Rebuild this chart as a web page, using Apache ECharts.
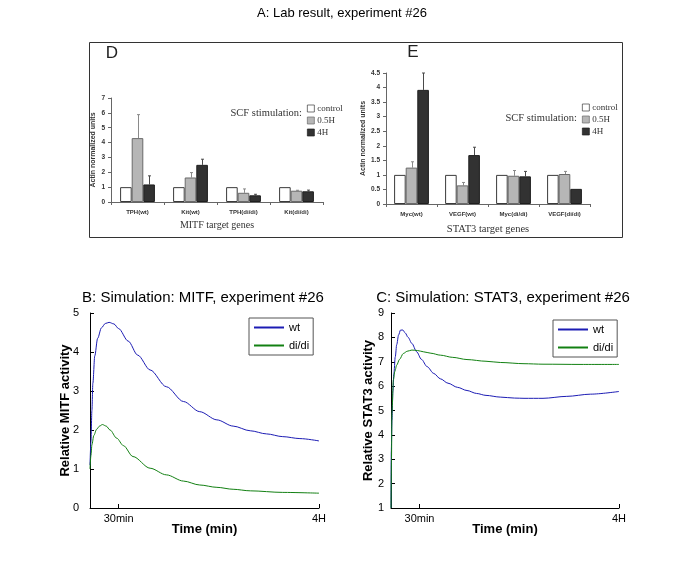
<!DOCTYPE html>
<html>
<head>
<meta charset="utf-8">
<script src="https://cdn.jsdelivr.net/npm/echarts@6/dist/echarts.min.js"></script>
<style>
html,body{margin:0;padding:0;background:#fff;}
#main{width:685px;height:570px;}
</style>
</head>
<body>
<div id="main"></div>
<script>
// ---------- DATA ----------
// Panel D (MITF target genes)
const dCategories = ['TPH(wt)', 'Kit(wt)', 'TPH(di/di)', 'Kit(di/di)'];
const dControl = [1.0, 1.0, 1.0, 1.0];
const dHalfHour = [4.3, 1.65, 0.62, 0.76];
const dFourHour = [1.18, 2.5, 0.45, 0.72];
const dHalfHourErrTop = [5.88, 1.98, 0.88, 0.79];
const dFourHourErrTop = [1.76, 2.88, 0.52, 0.8];
const dYTicks = {min: 0, max: 7, step: 1};

// Panel E (STAT3 target genes)
const eCategories = ['Myc(wt)', 'VEGF(wt)', 'Myc(di/di)', 'VEGF(di/di)'];
const eControl = [1.0, 1.0, 1.0, 1.0];
const eHalfHour = [1.25, 0.64, 0.97, 1.03];
const eFourHour = [3.92, 1.68, 0.95, 0.52];
const eHalfHourErrTop = [1.45, 0.74, 1.15, 1.12];
const eFourHourErrTop = [4.5, 1.95, 1.12, null];
const eYTicks = {min: 0, max: 4.5, step: 0.5};

const groupNames = ['control', '0.5H', '4H'];

// Panel B (simulation MITF)
const bWtTime = [0, 1, 2, 3, 5, 8, 12, 16, 20, 25, 30, 40, 50, 63, 80, 98, 115, 133, 150, 168, 185, 202, 220, 240];
const bWtValue = [1.1, 1.7, 2.5, 3.2, 3.9, 4.35, 4.62, 4.73, 4.76, 4.72, 4.6, 4.28, 3.92, 3.54, 3.11, 2.73, 2.47, 2.26, 2.1, 1.98, 1.9, 1.83, 1.78, 1.72];
const bDiTime = [0, 1, 2, 4, 7, 10, 13, 17, 21, 28, 35, 45, 63, 80, 98, 115, 133, 150, 168, 202, 240];
const bDiValue = [1.0, 1.35, 1.62, 1.86, 2.02, 2.1, 2.14, 2.1, 2.0, 1.79, 1.6, 1.32, 1.02, 0.85, 0.69, 0.59, 0.53, 0.48, 0.44, 0.4, 0.38];

// Panel C (simulation STAT3)
const cWtTime = [0, 0.3, 1, 2, 3, 4.5, 6, 8, 10, 12.5, 15, 18, 22, 27, 32, 38, 45, 52, 60, 70, 80, 90, 100, 115, 130, 140, 160, 185, 210, 240];
const cWtValue = [1, 3.3, 4.6, 5.8, 6.5, 7.2, 7.7, 8.1, 8.3, 8.3, 8.18, 8.0, 7.75, 7.41, 7.1, 6.8, 6.52, 6.3, 6.12, 5.95, 5.82, 5.7, 5.62, 5.55, 5.51, 5.5, 5.5, 5.58, 5.67, 5.78];
const cDiTime = [0, 0.5, 1, 2.5, 4, 6, 9, 13, 17, 22, 28, 34, 42, 52, 65, 80, 100, 115, 140, 160, 200, 240];
const cDiValue = [1, 3.0, 4.9, 6.25, 6.6, 6.86, 7.1, 7.34, 7.43, 7.48, 7.46, 7.41, 7.35, 7.27, 7.18, 7.09, 7.02, 6.97, 6.92, 6.9, 6.89, 6.89];

const timeTickValues = [30, 240];
const timeTickLabels = ['30min', '4H'];
const timeRange = {min: 0, max: 240};
const bYTicks = {min: 0, max: 5, step: 1};
const cYTicks = {min: 1, max: 9, step: 1};

// ---------- STYLE ----------
const SANS = 'Arial, "Liberation Sans", Helvetica, sans-serif';
const SERIF = '"Times New Roman", "Liberation Serif", Times, serif';
const BAR_W = 11.6;
const BLUE = '#1c1cb4';
const GREEN = '#128012';

function zip(a, b) { return a.map((v, i) => [v, b[i]]); }

function errData(tops, bars) {
  const out = [];
  tops.forEach((t, i) => { if (t != null) out.push([i, t, bars[i]]); });
  return out;
}

function errSeries(name, grid, tops, bars, offsetIdx, color) {
  return {
    type: 'custom', name: name, xAxisIndex: grid, yAxisIndex: grid,
    data: errData(tops, bars), z: 1, silent: true,
    renderItem: function (params, api) {
      const top = api.coord([api.value(0), api.value(1)]);
      const base = api.coord([api.value(0), api.value(2)]);
      const x = Math.round(top[0] + offsetIdx * BAR_W) + 0.5;
      return {
        type: 'group',
        children: [
          {type: 'line', shape: {x1: x, y1: base[1], x2: x, y2: top[1]}, style: {stroke: color, lineWidth: 1}},
          {type: 'line', shape: {x1: x - 1.5, y1: top[1], x2: x + 1.5, y2: top[1]}, style: {stroke: color, lineWidth: 1}}
        ]
      };
    }
  };
}

function barSeries(grid, ctrl, half, four) {
  return [
    {type: 'bar', name: groupNames[0], xAxisIndex: grid, yAxisIndex: grid, data: ctrl, barWidth: BAR_W, barGap: '0%',
     itemStyle: {color: '#ffffff', borderColor: '#3a3a3a', borderWidth: 1}, z: 2},
    {type: 'bar', name: groupNames[1], xAxisIndex: grid, yAxisIndex: grid, data: half, barWidth: BAR_W, barGap: '0%',
     itemStyle: {color: '#b6b6b6', borderColor: '#6a6a6a', borderWidth: 1}, z: 2},
    {type: 'bar', name: groupNames[2], xAxisIndex: grid, yAxisIndex: grid, data: four, barWidth: BAR_W, barGap: '0%',
     itemStyle: {color: '#323232', borderColor: '#1e1e1e', borderWidth: 1}, z: 2}
  ];
}

function topXAxis(grid, cats, name, nameGap, nameSize) {
  return {
    type: 'category', gridIndex: grid, data: cats,
    axisLine: {lineStyle: {color: '#666', width: 1}},
    axisTick: {show: true, length: 3, lineStyle: {color: '#666'}},
    axisLabel: {interval: 0, fontSize: 6, fontWeight: 'bold', fontFamily: SANS, color: '#333', margin: 7},
    name: name, nameLocation: 'middle', nameGap: nameGap, nameMoveOverlap: false,
    nameTextStyle: {fontFamily: SERIF, fontSize: nameSize, color: '#333'}
  };
}

function topYAxis(grid, ticks, nameGap) {
  return {
    type: 'value', gridIndex: grid, min: ticks.min, max: ticks.max, interval: ticks.step,
    axisLine: {show: true, lineStyle: {color: '#666', width: 1}},
    axisTick: {show: true, length: 3, lineStyle: {color: '#666'}},
    splitLine: {show: false},
    axisLabel: {fontSize: 6.5, fontWeight: 'bold', fontFamily: SANS, color: '#333', margin: 6},
    name: 'Actin normalized units', nameLocation: 'middle', nameGap: nameGap, nameMoveOverlap: false,
    nameTextStyle: {fontFamily: SANS, fontSize: 7, fontWeight: 'bold', color: '#333'}
  };
}

function simXAxis(grid) {
  return {
    type: 'value', gridIndex: grid, min: timeRange.min, max: timeRange.max,
    axisLine: {onZero: false, lineStyle: {color: '#000', width: 1}},
    axisTick: {show: true, inside: true, length: 4, customValues: timeTickValues, lineStyle: {color: '#000'}},
    axisLabel: {customValues: timeTickValues, fontSize: 11, fontFamily: SANS, color: '#000', margin: 5,
      formatter: function (v) { const i = timeTickValues.indexOf(v); return i >= 0 ? timeTickLabels[i] : ''; }},
    splitLine: {show: false},
    name: 'Time (min)', nameLocation: 'middle', nameGap: 15, nameMoveOverlap: false,
    nameTextStyle: {fontFamily: SANS, fontSize: 13, fontWeight: 'bold', color: '#000'}
  };
}

function simYAxis(grid, ticks, name, margin, nameGap) {
  return {
    type: 'value', gridIndex: grid, min: ticks.min, max: ticks.max, interval: ticks.step,
    axisLine: {show: true, onZero: false, lineStyle: {color: '#000', width: 1}},
    axisTick: {show: true, inside: true, length: 4, lineStyle: {color: '#000'}},
    axisLabel: {fontSize: 11, fontFamily: SANS, color: '#000', margin: margin},
    splitLine: {show: false},
    name: name, nameLocation: 'middle', nameGap: nameGap, nameMoveOverlap: false,
    nameTextStyle: {fontFamily: SANS, fontSize: 13, fontWeight: 'bold', color: '#000'}
  };
}

function lineSeries(name, grid, t, v, color, z) {
  return {
    type: 'line', name: name, xAxisIndex: grid, yAxisIndex: grid, data: zip(t, v),
    symbol: 'none', smooth: 0.3, smoothMonotone: 'x', z: z,
    lineStyle: {color: color, width: 1}, itemStyle: {color: color}
  };
}

function topLegend(left, top) {
  return {
    data: groupNames, orient: 'vertical', left: left, top: top,
    itemWidth: 7, itemHeight: 7, itemGap: 3, padding: 0, selectedMode: false,
    icon: 'rect', itemStyle: {borderWidth: 0.7},
    textStyle: {fontFamily: SERIF, fontSize: 9, color: '#333', padding: [0, 0, 0, -2]}
  };
}

function simLegend(left, top) {
  return {
    data: ['wt', 'di/di'], orient: 'vertical', left: left, top: top,
    itemWidth: 30, itemHeight: 8, itemGap: 7, padding: [4, 4, 4, 4], selectedMode: false,
    borderColor: '#555', borderWidth: 1, backgroundColor: '#fff',
    itemStyle: {opacity: 0},
    textStyle: {fontFamily: SANS, fontSize: 11, color: '#000'}
  };
}

const option = {
  backgroundColor: '#ffffff',
  animation: false,
  grid: [
    {left: 111, top: 98, width: 212, height: 104},
    {left: 386, top: 73, width: 204, height: 131},
    {left: 90, top: 313, width: 229, height: 195},
    {left: 391, top: 313, width: 228, height: 195}
  ],
  xAxis: [
    topXAxis(0, dCategories, 'MITF target genes', 18, 10),
    topXAxis(1, eCategories, 'STAT3 target genes', 20, 10.5),
    simXAxis(2),
    simXAxis(3)
  ],
  yAxis: [
    topYAxis(0, dYTicks, 14),
    topYAxis(1, eYTicks, 19),
    simYAxis(2, bYTicks, 'Relative MITF activity', 11, 18),
    simYAxis(3, cYTicks, 'Relative STAT3 activity', 7, 16)
  ],
  legend: [
    topLegend(307, 104),
    topLegend(582, 103),
    simLegend(249, 318),
    simLegend(553, 320)
  ],
  graphic: [
    {type: 'rect', shape: {x: 89.5, y: 42.5, width: 533, height: 195},
     style: {fill: 'none', stroke: '#333', lineWidth: 1}},
    {type: 'text', x: 342, y: 13, style: {text: 'A: Lab result, experiment #26', font: '13px ' + SANS, fill: '#000', align: 'center', verticalAlign: 'middle'}},
    {type: 'text', x: 112, y: 53, style: {text: 'D', font: '17px ' + SANS, fill: '#222', align: 'center', verticalAlign: 'middle'}},
    {type: 'text', x: 413, y: 52, style: {text: 'E', font: '17px ' + SANS, fill: '#222', align: 'center', verticalAlign: 'middle'}},
    {type: 'text', x: 302, y: 113, style: {text: 'SCF stimulation:', font: '10.5px ' + SERIF, fill: '#333', align: 'right', verticalAlign: 'middle'}},
    {type: 'text', x: 577, y: 118, style: {text: 'SCF stimulation:', font: '10.5px ' + SERIF, fill: '#333', align: 'right', verticalAlign: 'middle'}},
    {type: 'text', x: 203, y: 298, style: {text: 'B: Simulation: MITF, experiment #26', font: '15px ' + SANS, fill: '#000', align: 'center', verticalAlign: 'middle'}},
    {type: 'text', x: 503, y: 298, style: {text: 'C: Simulation: STAT3, experiment #26', font: '15px ' + SANS, fill: '#000', align: 'center', verticalAlign: 'middle'}}
  ],
  series: [].concat(
    barSeries(0, dControl, dHalfHour, dFourHour),
    [errSeries('errD05', 0, dHalfHourErrTop, dHalfHour, 0, '#8a8a8a'),
     errSeries('errD4', 0, dFourHourErrTop, dFourHour, 1, '#4a4a4a')],
    barSeries(1, eControl, eHalfHour, eFourHour),
    [errSeries('errE05', 1, eHalfHourErrTop, eHalfHour, 0, '#8a8a8a'),
     errSeries('errE4', 1, eFourHourErrTop, eFourHour, 1, '#4a4a4a')],
    [lineSeries('wt', 2, bWtTime, bWtValue, BLUE, 3),
     lineSeries('di/di', 2, bDiTime, bDiValue, GREEN, 4),
     lineSeries('wt', 3, cWtTime, cWtValue, BLUE, 3),
     lineSeries('di/di', 3, cDiTime, cDiValue, GREEN, 4)]
  )
};

const chart = echarts.init(document.getElementById('main'), null, {renderer: 'canvas'});
chart.setOption(option);
</script>
</body>
</html>
